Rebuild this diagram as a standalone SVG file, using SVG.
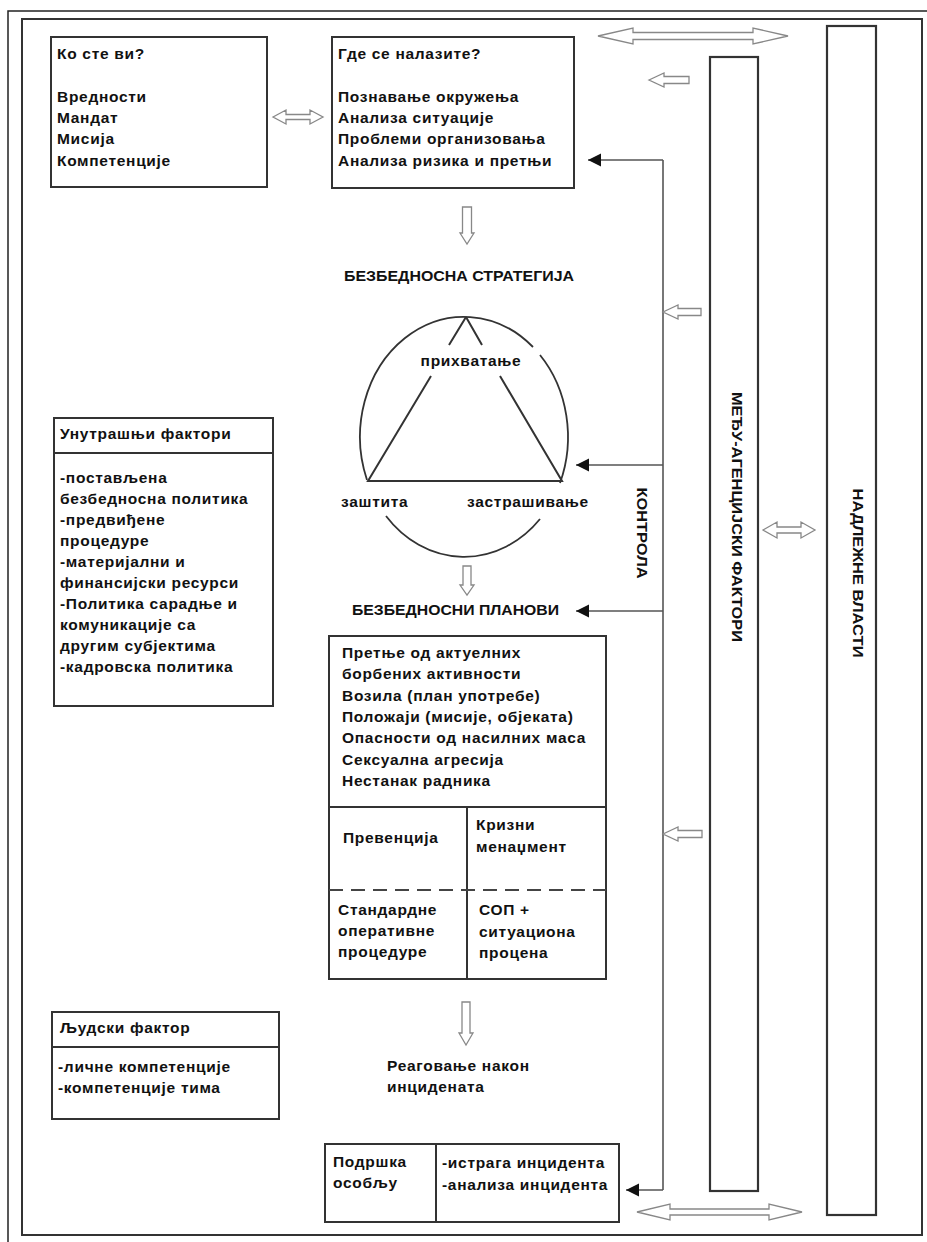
<svg xmlns="http://www.w3.org/2000/svg" width="927" height="1242" viewBox="0 0 927 1242">
<style>
.t{font-family:"Liberation Sans",Arial,sans-serif;font-weight:bold;font-size:15.5px;fill:#111;letter-spacing:0.7px}
.h{font-family:"Liberation Sans",Arial,sans-serif;font-weight:bold;font-size:15px;fill:#111}
.box{fill:#fff;stroke:#333;stroke-width:2}
.bar{fill:#fff;stroke:#333;stroke-width:2.2}
.ln{fill:none;stroke:#333;stroke-width:2}
.thin{fill:none;stroke:#333;stroke-width:1.8}
.ctl{fill:none;stroke:#555;stroke-width:1.6}
.hol{fill:#fff;stroke:#888;stroke-width:1.3}
</style>
<defs>
<marker id="ah" markerUnits="userSpaceOnUse" markerWidth="14" markerHeight="14" refX="13" refY="6.5" orient="auto">
<path d="M0,0 L13,6.5 L0,13 z" fill="#111"/>
</marker>
</defs>
<rect x="0" y="0" width="927" height="1242" fill="#fff"/>
<g id="frame">
<rect x="8" y="11" width="940" height="1250" fill="none" stroke="#222" stroke-width="1.5"/>
<rect x="22" y="19" width="900" height="1216" fill="none" stroke="#333" stroke-width="2"/>
</g>

<g id="who">
<rect class="box" x="51" y="37" width="216" height="150"/>
<text class="t" x="57" y="59">Ко сте ви?</text>
<text class="t" x="57" y="102">Вредности</text>
<text class="t" x="57" y="123">Мандат</text>
<text class="t" x="57" y="144">Мисија</text>
<text class="t" x="57" y="166">Компетенције</text>
</g>

<g id="where">
<rect class="box" x="332" y="37" width="242" height="151"/>
<text class="t" x="338" y="59">Где се налазите?</text>
<text class="t" x="338" y="102">Познавање окружења</text>
<text class="t" x="338" y="123">Анализа ситуације</text>
<text class="t" x="338" y="144">Проблеми организовања</text>
<text class="t" x="338" y="166">Анализа ризика и претњи</text>
</g>

<g id="strategy">
<text class="h" x="459" y="281" text-anchor="middle" textLength="230" lengthAdjust="spacingAndGlyphs">БЕЗБЕДНОСНА СТРАТЕГИЈА</text>
<path class="thin" d="M367,480 A104,120 0 0 1 533,347"/>
<path class="thin" d="M540,355 A104,120 0 0 1 560,483"/>
<path class="thin" d="M386,516 A104,120 0 0 0 540,519"/>
<path class="ln" d="M466,317 L449,345 M431,376 L368,481 L562,481 L500,376 M482,345 L466,317"/>
<text class="t" x="471" y="366" text-anchor="middle">прихватање</text>
<text class="t" x="341" y="507">заштита</text>
<text class="t" x="467" y="507">застрашивање</text>
</g>

<g id="plans-title">
<text class="h" x="352" y="615" textLength="207" lengthAdjust="spacingAndGlyphs">БЕЗБЕДНОСНИ  ПЛАНОВИ</text>
</g>

<g id="plans">
<rect class="box" x="329" y="636" width="277" height="343"/>
<line class="ln" x1="329" y1="807" x2="606" y2="807"/>
<line class="ln" x1="467" y1="807" x2="467" y2="979"/>
<line x1="329" y1="890" x2="606" y2="890" stroke="#444" stroke-width="2" stroke-dasharray="14,8"/>
<text class="t" x="342" y="658">Претње од актуелних</text>
<text class="t" x="342" y="679">борбених активности</text>
<text class="t" x="342" y="701">Возила (план употребе)</text>
<text class="t" x="342" y="722">Положаји (мисије, објеката)</text>
<text class="t" x="342" y="743">Опасности од насилних маса</text>
<text class="t" x="342" y="765">Сексуална агресија</text>
<text class="t" x="342" y="786">Нестанак радника</text>
<text class="t" x="343" y="843">Превенција</text>
<text class="t" x="476" y="830">Кризни</text>
<text class="t" x="476" y="852">менаџмент</text>
<text class="t" x="338" y="915">Стандардне</text>
<text class="t" x="338" y="936">оперативне</text>
<text class="t" x="338" y="957">процедуре</text>
<text class="t" x="479" y="915">СОП +</text>
<text class="t" x="479" y="937">ситуациона</text>
<text class="t" x="479" y="958">процена</text>
</g>

<g id="internal">
<rect class="box" x="54" y="418" width="219" height="288"/>
<line class="ln" x1="54" y1="453" x2="273" y2="453"/>
<text class="t" x="60" y="439">Унутрашњи фактори</text>
<text class="t" x="60" y="483">-постављена</text>
<text class="t" x="60" y="504">безбедносна политика</text>
<text class="t" x="60" y="525">-предвиђене</text>
<text class="t" x="60" y="546">процедуре</text>
<text class="t" x="60" y="567">-материјални и</text>
<text class="t" x="60" y="588">финансијски ресурси</text>
<text class="t" x="60" y="609">-Политика сарадње и</text>
<text class="t" x="60" y="630">комуникације са</text>
<text class="t" x="60" y="651">другим субјектима</text>
<text class="t" x="60" y="672">-кадровска политика</text>
</g>

<g id="human">
<rect class="box" x="52" y="1012" width="227" height="107"/>
<line class="ln" x1="52" y1="1047" x2="279" y2="1047"/>
<text class="t" x="60" y="1033">Људски фактор</text>
<text class="t" x="58" y="1072">-личне компетенције</text>
<text class="t" x="58" y="1093">-компетенције тима</text>
</g>

<g id="response">
<text class="t" x="387" y="1071">Реаговање након</text>
<text class="t" x="387" y="1092">инцидената</text>
</g>

<g id="support">
<rect class="box" x="325" y="1144" width="294" height="78"/>
<line class="ln" x1="436" y1="1144" x2="436" y2="1222"/>
<text class="t" x="333" y="1167">Подршка</text>
<text class="t" x="333" y="1188">особљу</text>
<text class="t" x="442" y="1168">-истрага инцидента</text>
<text class="t" x="442" y="1190">-анализа инцидента</text>
</g>

<g id="interagency">
<rect class="bar" x="710" y="57" width="48" height="1134"/>
<text class="h" transform="translate(737,517) rotate(90)" text-anchor="middle" dy="5" textLength="250" lengthAdjust="spacingAndGlyphs">МЕЂУ-АГЕНЦИЈСКИ ФАКТОРИ</text>
</g>

<g id="authorities">
<rect class="bar" x="827" y="26" width="49" height="1189"/>
<text class="h" transform="translate(858,573) rotate(90)" text-anchor="middle" dy="5" textLength="169" lengthAdjust="spacingAndGlyphs">НАДЛЕЖНЕ ВЛАСТИ</text>
</g>

<g id="control-label">
<text class="h" transform="translate(642,533) rotate(90)" text-anchor="middle" dy="5" textLength="91" lengthAdjust="spacingAndGlyphs">КОНТРОЛА</text>
</g>

<g id="connectors">
<path class="ctl" d="M663,160 L663,1190"/>
<line class="ctl" x1="663" y1="160" x2="588" y2="160" marker-end="url(#ah)"/>
<line class="ctl" x1="663" y1="465" x2="576" y2="465" marker-end="url(#ah)"/>
<line class="ctl" x1="663" y1="611" x2="576" y2="611" marker-end="url(#ah)"/>
<line class="ctl" x1="663" y1="1190" x2="626" y2="1190" marker-end="url(#ah)"/>
<polygon class="hol" points="273,117 286,110 286,114.5 310,114.5 310,110 323,117 310,124 310,119.5 286,119.5 286,124"/>
<polygon class="hol" points="598,36 633,28 633,32.5 753,32.5 753,28 788,36 753,44 753,39.5 633,39.5 633,44"/>
<polygon class="hol" points="763,530 777,522 777,527 801,527 801,522 815,530 801,538 801,533 777,533 777,538"/>
<polygon class="hol" points="637,1212 670,1204 670,1209 769,1209 769,1204 802,1212 769,1220 769,1215 670,1215 670,1220"/>
<polygon class="hol" points="649,80 664,73 664,76.5 689,76.5 689,83.5 664,83.5 664,87"/>
<polygon class="hol" points="663,312 678,305 678,308.5 701,308.5 701,315.5 678,315.5 678,319"/>
<polygon class="hol" points="663,834 678,827 678,830.5 702,830.5 702,837.5 678,837.5 678,841"/>
<polygon class="hol" points="462.5,207 471.5,207 471.5,233 474,233 467,244 460,233 462.5,233"/>
<polygon class="hol" points="463,566 471,566 471,585 474,585 467,595 460,585 463,585"/>
<polygon class="hol" points="462,1002 470,1002 470,1033 473,1033 466,1045 459,1033 462,1033"/>
</g>
</svg>
